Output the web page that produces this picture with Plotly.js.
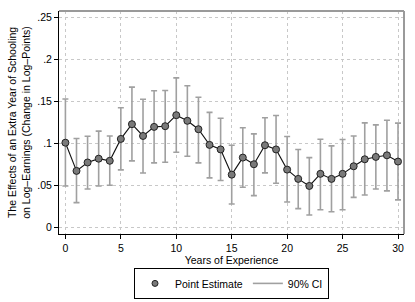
<!DOCTYPE html>
<html>
<head>
<meta charset="utf-8">
<script src="https://cdn.plot.ly/plotly-3.0.1.min.js"></script>
<style>html,body{margin:0;padding:0;background:#fff;}#chart{width:415px;height:302px;}</style>
</head>
<body>
<div id="chart"></div>
<script>
const years = [0,1,2,3,4,5,6,7,8,9,10,11,12,13,14,15,16,17,18,19,20,21,22,23,24,25,26,27,28,29,30];
const estimate = [0.101,0.0675,0.0775,0.082,0.0795,0.1055,0.123,0.109,0.1198,0.1206,0.1337,0.127,0.117,0.0984,0.093,0.063,0.0833,0.0754,0.098,0.093,0.069,0.058,0.0496,0.064,0.058,0.064,0.073,0.0813,0.0841,0.086,0.0786];
const ciUpper = [0.153,0.106,0.1087,0.1147,0.109,0.1425,0.167,0.1527,0.1627,0.163,0.178,0.1687,0.155,0.137,0.130,0.098,0.1187,0.1115,0.1306,0.1333,0.1083,0.0929,0.0833,0.1051,0.0972,0.1048,0.109,0.1246,0.1222,0.1277,0.1242];
const ciLower = [0.0496,0.0298,0.046,0.0496,0.0504,0.0687,0.0794,0.065,0.077,0.0778,0.0897,0.0849,0.077,0.0592,0.056,0.0282,0.048,0.0381,0.0651,0.0528,0.0306,0.0226,0.0151,0.0214,0.019,0.0214,0.036,0.0389,0.046,0.0437,0.033];
const xTicks = [0,5,10,15,20,25,30];
const yTicks = [0,0.05,0.1,0.15,0.2,0.25];
const yTickLabels = ["0",".05",".1",".15",".2",".25"];

const errPlus = ciUpper.map((u,i)=>u-estimate[i]);
const errMinus = estimate.map((e,i)=>e-ciLower[i]);

const FONT = 'Liberation Sans, Arial, sans-serif';

const traces = [
  {
    x: years, y: estimate, type: 'scatter', mode: 'markers',
    marker: {size: 0.1, opacity: 0},
    error_y: {type: 'data', symmetric: false, array: errPlus, arrayminus: errMinus,
              color: '#a0a0a0', thickness: 1.6, width: 3},
    hoverinfo: 'skip', showlegend: false
  },
  {
    x: years, y: estimate, type: 'scatter', mode: 'lines',
    line: {color: '#111', width: 1.1}, showlegend: false, hoverinfo: 'skip'
  },
  {
    x: years, y: estimate, type: 'scatter', mode: 'markers', name: 'Point Estimate',
    marker: {size: 7, color: '#7a7a7a', line: {color: '#222', width: 1}},
    showlegend: false
  },
  {
    x: [null], y: [null], type: 'scatter', mode: 'markers', name: 'Point Estimate',
    marker: {size: 6, color: '#7a7a7a', line: {color: '#222', width: 1}}
  },
  {
    x: [null], y: [null], type: 'scatter', mode: 'lines', name: '90% CI',
    line: {color: '#a0a0a0', width: 1.6}
  }
];

const layout = {
  width: 415, height: 302,
  margin: {l: 59, r: 11, t: 11, b: 68, autoexpand: false},
  paper_bgcolor: '#fff', plot_bgcolor: '#fff',
  font: {family: FONT, size: 10.5, color: '#000'},
  showlegend: true,
  legend: {
    orientation: 'h', x: 0.5, xanchor: 'center', y: -0.152, yanchor: 'top',
    bordercolor: '#000', borderwidth: 1, font: {family: FONT, size: 10.5},
    itemwidth: 30, tracegroupgap: 0
  },
  xaxis: {
    range: [-0.578, 30.54], tickvals: xTicks, ticktext: xTicks.map(String),
    ticks: 'outside', ticklen: 4, tickcolor: '#000', tickwidth: 1,
    showline: true, linecolor: '#000', linewidth: 1,
    showgrid: true, gridcolor: '#c8c8c8', griddash: 'dot', gridwidth: 1,
    zeroline: false, automargin: false,
    tickfont: {family: FONT, size: 10.5},
    title: {text: 'Years of Experience', font: {family: FONT, size: 10.5}, standoff: 2}
  },
  yaxis: {
    range: [-0.0075, 0.2575], tickvals: yTicks, ticktext: yTickLabels,
    ticks: 'outside', ticklen: 4, tickcolor: '#000', tickwidth: 1,
    showline: true, linecolor: '#000', linewidth: 1,
    showgrid: true, gridcolor: '#c8c8c8', griddash: 'dot', gridwidth: 1,
    zeroline: false, automargin: false,
    tickfont: {family: FONT, size: 10.5},
    title: {text: 'The Effects of an Extra Year of Schooling<br>on Log–Earnings (Change in Log–Points)', font: {family: FONT, size: 10.5}, standoff: 4}
  },
  shapes: [
    {type: 'line', xref: 'paper', yref: 'paper', x0: 0, x1: 1, y0: 1, y1: 1, line: {color: '#9a9a9a', width: 2}},
    {type: 'line', xref: 'paper', yref: 'paper', x0: 1, x1: 1, y0: 0, y1: 1, line: {color: '#9a9a9a', width: 2}}
  ]
};

Plotly.newPlot('chart', traces, layout, {displayModeBar: false, staticPlot: true});
</script>
</body>
</html>
